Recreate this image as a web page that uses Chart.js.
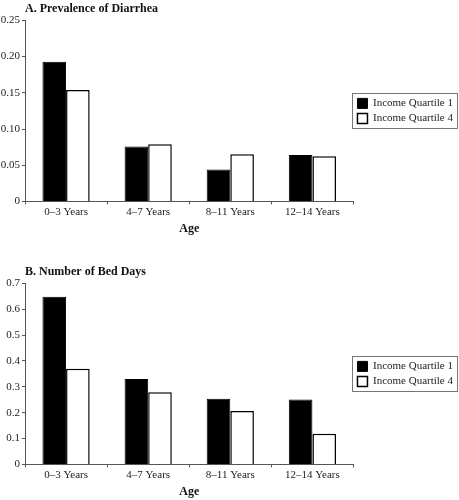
<!DOCTYPE html>
<html>
<head>
<meta charset="utf-8">
<script src="https://cdn.jsdelivr.net/npm/chart.js@4"></script>
<style>
    body { margin: 0; background: #fff; overflow: hidden; }
    .bloco { position: absolute; left: 0; width: 459px; height: 240px; }
    #bloco1 { top: 0; }
    #bloco2 { top: 263px; }
</style>
</head>
<body>
<div class="bloco" id="bloco1"><canvas id="chart1" width="459" height="240"></canvas></div>
<div class="bloco" id="bloco2"><canvas id="chart2" width="459" height="240"></canvas></div>
<script>
// Dados
const categorias = ['0–3 Years', '4–7 Years', '8–11 Years', '12–14 Years'];
const legendas = ['Income Quartile 1', 'Income Quartile 4'];

const diarreia_q1 = [0.193, 0.076, 0.044, 0.064];
const diarreia_q4 = [0.154, 0.079, 0.065, 0.0625];

const leito_q1 = [0.648, 0.330, 0.254, 0.251];
const leito_q4 = [0.370, 0.279, 0.207, 0.119];

const fonte = '"Liberation Serif", "DejaVu Serif", serif';

// legenda um pouco mais estreita + moldura em volta dela
const bordaLegenda = {
    id: 'bordaLegenda',
    beforeUpdate(chart) {
        const leg = chart.legend;
        if (!leg || leg._estreita) return;
        const fitOriginal = leg.fit;
        leg.fit = function () {
            fitOriginal.call(this);
            this.width -= 5;
        };
        leg._estreita = true;
    },
    afterDraw(chart) {
        const caixas = chart.legend.legendHitBoxes;
        if (!caixas || !caixas.length) return;
        let esq = Infinity, dir = -Infinity, topo = Infinity, baixo = -Infinity;
        caixas.forEach(function (c) {
            esq = Math.min(esq, c.left);
            dir = Math.max(dir, c.left + c.width);
            topo = Math.min(topo, c.top);
            baixo = Math.max(baixo, c.top + c.height);
        });
        const ctx = chart.ctx;
        ctx.save();
        ctx.strokeStyle = '#777';
        ctx.lineWidth = 1;
        ctx.strokeRect(Math.round(esq - 5) + 0.5, Math.round(topo - 5) + 0.5,
            Math.round(dir - esq + 9), Math.round(baixo - topo + 9));
        ctx.restore();
    }
};

plotarGrafico('chart1', 'A. Prevalence of Diarrhea', diarreia_q1, diarreia_q4, 0.25, 0.05, 2);
plotarGrafico('chart2', 'B. Number of Bed Days', leito_q1, leito_q4, 0.7, 0.1, 1);

function plotarGrafico(id, titulo, serie1, serie2, maximo, passo, casas) {
    new Chart(document.getElementById(id), {
        type: 'bar',
        data: {
            labels: categorias,
            datasets: [
                {
                    label: legendas[0],
                    data: serie1,
                    backgroundColor: '#000',
                    borderColor: '#000',
                    borderWidth: 1
                },
                {
                    label: legendas[1],
                    data: serie2,
                    backgroundColor: '#fff',
                    borderColor: '#000',
                    borderWidth: 1.5
                }
            ]
        },
        options: {
            responsive: false,
            animation: false,
            categoryPercentage: 0.575,
            barPercentage: 1,
            layout: {
                padding: { left: 0, right: 1, top: 0, bottom: 4 }
            },
            plugins: {
                title: {
                    display: true,
                    text: titulo,
                    align: 'start',
                    fullSize: false,
                    color: '#111',
                    font: { family: fonte, size: 12, weight: 'bold' },
                    padding: { top: 2, bottom: 4 }
                },
                legend: {
                    position: 'right',
                    fullSize: false,
                    labels: {
                        color: '#222',
                        boxWidth: 10,
                        boxHeight: 10,
                        padding: 4,
                        font: { family: fonte, size: 11 }
                    }
                },
                tooltip: { enabled: false }
            },
            scales: {
                x: {
                    offset: true,
                    grid: {
                        offset: true,
                        drawOnChartArea: false,
                        tickLength: 3,
                        color: '#555'
                    },
                    border: { color: '#555', width: 1 },
                    ticks: {
                        color: '#222',
                        padding: 1,
                        font: { family: fonte, size: 11 }
                    },
                    title: {
                        display: true,
                        text: 'Age',
                        color: '#111',
                        padding: { top: 2, bottom: 0 },
                        font: { family: fonte, size: 12, weight: 'bold' }
                    }
                },
                y: {
                    min: 0,
                    max: maximo,
                    afterFit: function (escala) {
                        escala.width = 25;
                    },
                    grid: {
                        drawOnChartArea: false,
                        tickLength: 3,
                        color: '#555'
                    },
                    border: { color: '#555', width: 1 },
                    ticks: {
                        stepSize: passo,
                        color: '#222',
                        padding: 2,
                        font: { family: fonte, size: 11 },
                        callback: function (valor) {
                            return valor === 0 ? '0' : Number(valor).toFixed(casas);
                        }
                    }
                }
            }
        },
        plugins: [bordaLegenda]
    });
}
</script>
</body>
</html>
